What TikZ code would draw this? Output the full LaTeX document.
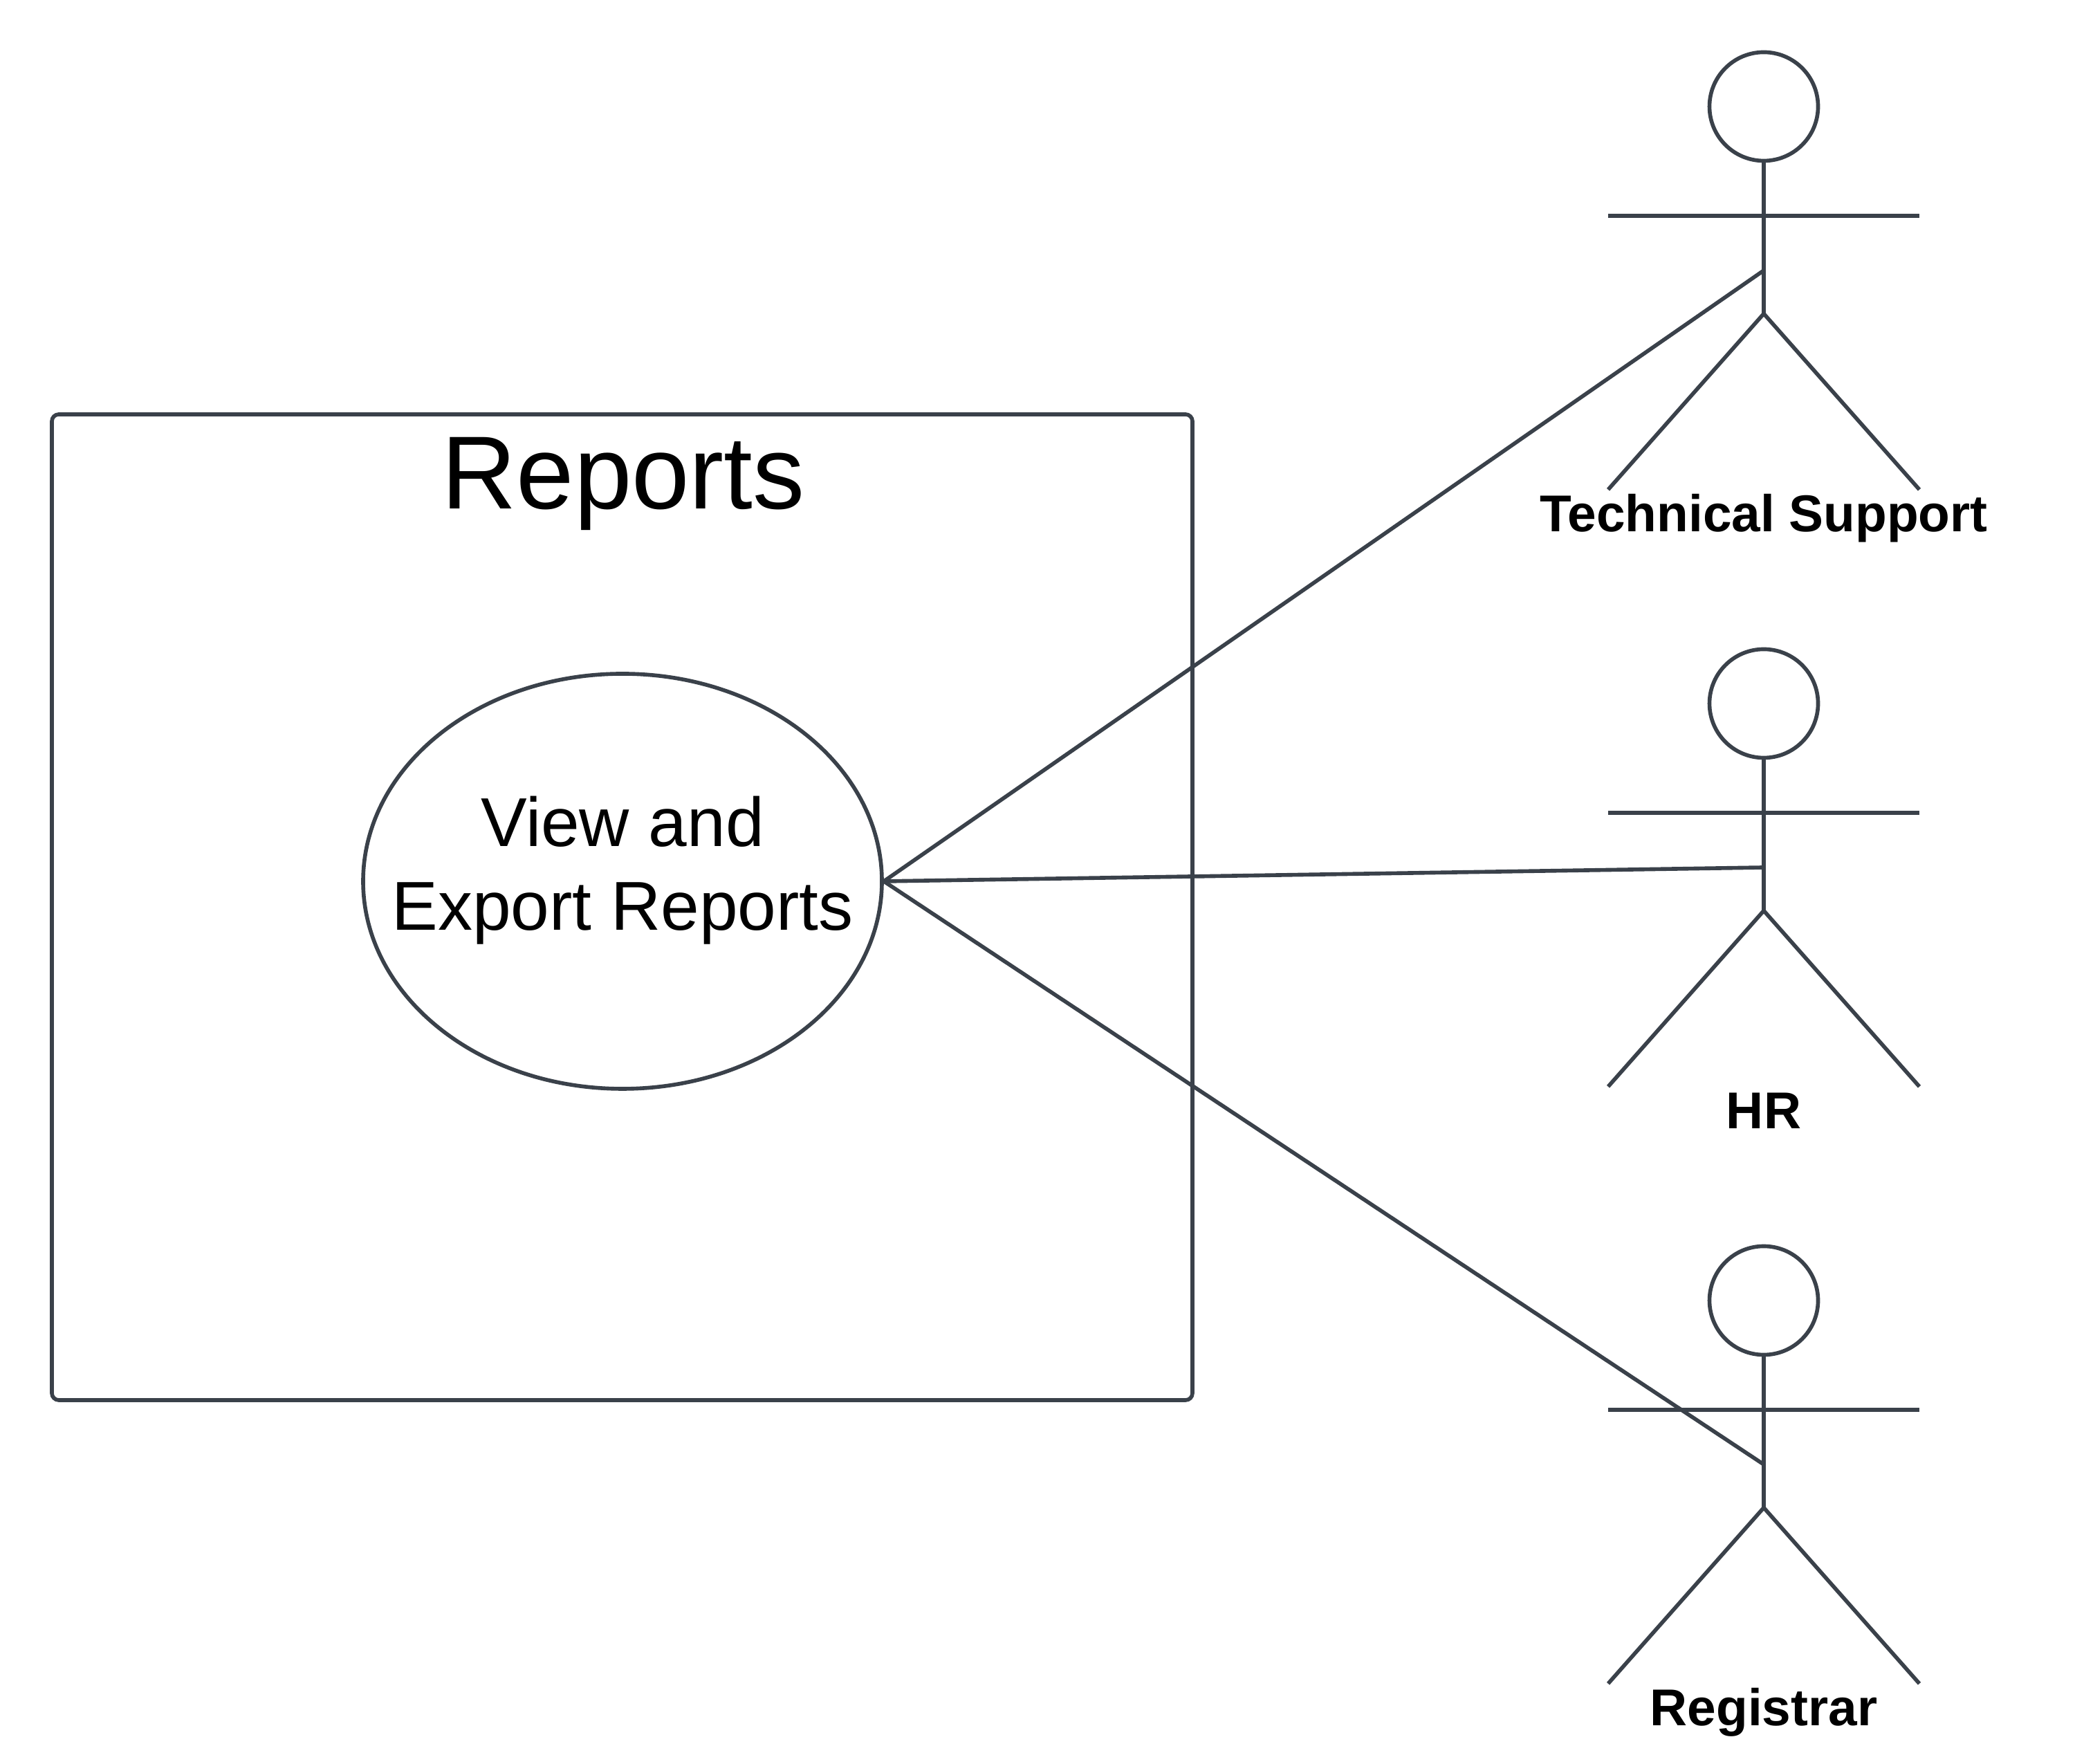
\documentclass[tikz,border=0pt]{standalone}
\usepackage{fontspec}
\setmainfont{Liberation Sans}
\usetikzlibrary{shapes.geometric,positioning,calc}
\definecolor{linegray}{HTML}{3A414A}

\begin{document}
\begin{tikzpicture}[line width=1.6pt,
boundary/.style={rectangle,draw=linegray,rounded corners=0.1cm,minimum width=16.49cm,minimum height=14.25cm,inner sep=0},
usecase/.style={ellipse,draw=linegray,minimum width=7.5cm,minimum height=6.0cm,inner sep=0},
usetext/.style={align=center,inner sep=0,font=\fontsize{28.45}{34.3}\selectfont},
head/.style={circle,draw=linegray,minimum size=1.57cm,inner sep=0},
actorname/.style={anchor=base,font=\fontsize{21.3}{25}\selectfont\bfseries,inner sep=0},
edge/.style={draw=linegray}]
\useasboundingbox (0,0) rectangle (30,25.5);
\node(box)[boundary] at (8.995,12.385){};
\node(title)[anchor=base,font=\fontsize{42.7}{50}\selectfont,inner sep=0] at (9.01,18.14){Reports};
\node(view)[usecase] at (9.0,12.76){};
\node(viewtext)[usetext,yshift=0.16cm] at (view.center){View and\\Export Reports};
\foreach \i/\ypos/\txt in {1/23.96/Technical Support,2/15.33/HR,3/6.70/Registrar}
{
\node(head\i)[head] at (25.50,\ypos){};
\coordinate(waist\i) at ($(head\i.center)+(0,-2.995)$);
\coordinate(hand\i l) at ($(head\i.center)+(-2.25,-1.578)$);
\coordinate(hand\i r) at ($(head\i.center)+(2.25,-1.578)$);
\coordinate(foot\i l) at ($(head\i.center)+(-2.25,-5.538)$);
\coordinate(foot\i r) at ($(head\i.center)+(2.25,-5.538)$);
\coordinate(hit\i) at ($(head\i.center)+(0,-2.37)$);
\node(name\i)[actorname] at ($(head\i.center)+(0,-6.15)$){\txt};
\draw [edge] (head\i) to (waist\i);
\draw [edge] (hand\i l) to (hand\i r);
\draw [edge] (foot\i l) to (waist\i) to (foot\i r);
\draw [edge] (view.east) to (hit\i);
}
\end{tikzpicture}
\end{document}
